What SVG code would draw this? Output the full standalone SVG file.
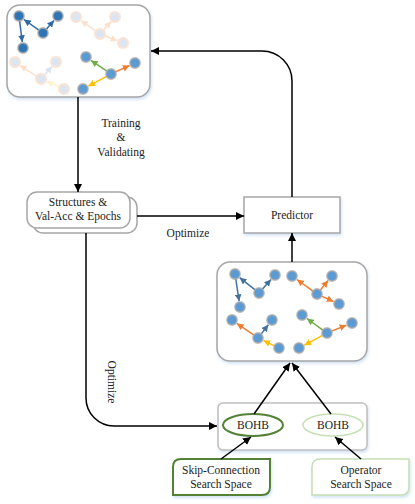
<svg xmlns="http://www.w3.org/2000/svg" width="415" height="504" viewBox="0 0 415 504">
<defs>
<filter id="sh" x="-10%" y="-10%" width="125%" height="130%"><feDropShadow dx="1" dy="2" stdDeviation="1.5" flood-color="#9dc3e6" flood-opacity="0.45"/></filter>
<marker id="ak" viewBox="0 0 10 10" refX="10" refY="5" markerWidth="8" markerHeight="8" markerUnits="userSpaceOnUse" orient="auto"><path d="M0,0 L10,5 L0,10 z" fill="#000"/></marker>
<marker id="mdb" viewBox="0 0 10 10" refX="10" refY="5" markerWidth="4.5" markerHeight="4.5" orient="auto"><path d="M0,0 L10,5 L0,10 z" fill="#2e6aa6"/></marker>
<marker id="mb" viewBox="0 0 10 10" refX="10" refY="5" markerWidth="4.5" markerHeight="4.5" orient="auto"><path d="M0,0 L10,5 L0,10 z" fill="#41719c"/></marker>
<marker id="mo" viewBox="0 0 10 10" refX="10" refY="5" markerWidth="4.5" markerHeight="4.5" orient="auto"><path d="M0,0 L10,5 L0,10 z" fill="#ed7d31"/></marker>
<marker id="mg" viewBox="0 0 10 10" refX="10" refY="5" markerWidth="4.5" markerHeight="4.5" orient="auto"><path d="M0,0 L10,5 L0,10 z" fill="#70ad47"/></marker>
<marker id="my" viewBox="0 0 10 10" refX="10" refY="5" markerWidth="4.5" markerHeight="4.5" orient="auto"><path d="M0,0 L10,5 L0,10 z" fill="#ffc000"/></marker>
<marker id="mfo" viewBox="0 0 10 10" refX="10" refY="5" markerWidth="4.5" markerHeight="4.5" orient="auto"><path d="M0,0 L10,5 L0,10 z" fill="#fbe0cc"/></marker>
<marker id="mfb" viewBox="0 0 10 10" refX="10" refY="5" markerWidth="4.5" markerHeight="4.5" orient="auto"><path d="M0,0 L10,5 L0,10 z" fill="#dae3f3"/></marker>
<marker id="mfy" viewBox="0 0 10 10" refX="10" refY="5" markerWidth="4.5" markerHeight="4.5" orient="auto"><path d="M0,0 L10,5 L0,10 z" fill="#fff2cc"/></marker>
</defs>
<style>
text{font-family:"Liberation Serif","Times New Roman",serif;font-size:11.5px;fill:#222;text-anchor:middle}
.box{fill:#fff;stroke:#a6a6a6;stroke-width:1.5}
.con{fill:none;stroke:#000;stroke-width:1.5;marker-end:url(#ak)}
.n{fill:#5b9bd5;stroke:#a6a6a6;stroke-opacity:.75;stroke-width:1.8}
.nd{fill:#2e75b6;stroke:#a6a6a6;stroke-opacity:.75;stroke-width:1.8}
.nf{fill:#dce6f2;stroke:#fbe3d3;stroke-width:2}
.e{fill:none;stroke-width:1.5}
.db{stroke:#2e6aa6;marker-end:url(#mdb)}
.b{stroke:#41719c;marker-end:url(#mb)}
.o{stroke:#ed7d31;marker-end:url(#mo)}
.g{stroke:#70ad47;marker-end:url(#mg)}
.y{stroke:#ffc000;marker-end:url(#my)}
.fo{stroke:#fbe0cc;marker-end:url(#mfo)}
.fb{stroke:#dae3f3;marker-end:url(#mfb)}
.fy{stroke:#fff2cc;marker-end:url(#mfy)}
</style>

<g id="population-top">
<rect x="7" y="5" width="143" height="92" rx="13" class="box" filter="url(#sh)"/>
<g>
<line class="e fo" x1="95.9" y1="31.1" x2="80.9" y2="20.5"/>
<line class="e fo" x1="103.3" y1="30.3" x2="111" y2="21.5"/>
<line class="e fo" x1="104.7" y1="35.8" x2="117.4" y2="40.8"/>
<circle class="nf" cx="76" cy="17" r="5"/><circle class="nf" cx="115" cy="17" r="5"/><circle class="nf" cx="100" cy="34" r="5"/><circle class="nf" cx="123" cy="43" r="5"/>
<line class="e fo" x1="36.8" y1="76.3" x2="20" y2="65.3"/>
<line class="e fb" x1="44.3" y1="75.3" x2="52" y2="66.5"/>
<line class="e fy" x1="59.4" y1="87" x2="46.5" y2="81.4"/>
<circle class="nf" cx="15" cy="62" r="5"/><circle class="nf" cx="56" cy="62" r="5"/><circle class="nf" cx="41" cy="79" r="5"/><circle class="nf" cx="64" cy="89" r="5"/>
<line class="e db" x1="38.9" y1="30.1" x2="23.9" y2="19.5"/>
<line class="e db" x1="46.3" y1="29.3" x2="54" y2="20.5"/>
<line class="e db" x1="19.6" y1="21" x2="22.3" y2="42"/>
<circle class="nd" cx="19" cy="16" r="5"/><circle class="nd" cx="58" cy="16" r="5"/><circle class="nd" cx="43" cy="33" r="5"/><circle class="nd" cx="23" cy="48" r="5"/>
<line class="e g" x1="106.9" y1="71.2" x2="91" y2="60.4"/>
<line class="e o" x1="115.5" y1="71.9" x2="129.5" y2="65.5"/>
<line class="e y" x1="106.6" y1="76.4" x2="88.3" y2="86.2"/>
<circle class="n" cx="86" cy="57" r="5"/><circle class="n" cx="135" cy="63" r="5"/><circle class="n" cx="111" cy="74" r="5"/><circle class="n" cx="83" cy="89" r="5"/>
</g>
</g>

<g id="structures">
<rect x="33" y="197" width="104" height="36" rx="10" class="box"/>
<rect x="27" y="192" width="103" height="36" rx="10" class="box"/>
<text x="78" y="206">Structures &amp;</text>
<text x="78" y="220">Val-Acc &amp; Epochs</text>
</g>

<g id="predictor">
<rect x="244" y="197" width="96" height="36" class="box" filter="url(#sh)"/>
<text x="292" y="219">Predictor</text>
</g>

<g id="population-mid">
<rect x="217" y="262" width="150" height="99" rx="13" class="box" filter="url(#sh)"/>
<line class="e b" x1="255.1" y1="289.9" x2="239.7" y2="277.7"/>
<line class="e b" x1="262.3" y1="289.3" x2="271" y2="279.5"/>
<line class="e b" x1="235.8" y1="279" x2="239.1" y2="301.1"/>
<circle class="n" cx="235" cy="274" r="5"/><circle class="n" cx="275" cy="275" r="5"/><circle class="n" cx="259" cy="293" r="5"/><circle class="n" cx="240" cy="307" r="5"/>
<line class="e o" x1="312.9" y1="291.1" x2="296.9" y2="279.5"/>
<line class="e o" x1="320.2" y1="290.2" x2="328.2" y2="280.6"/>
<line class="e o" x1="321.5" y1="296.1" x2="333.5" y2="301.5"/>
<circle class="n" cx="292" cy="276" r="5"/><circle class="n" cx="332" cy="276" r="5"/><circle class="n" cx="317" cy="294" r="5"/><circle class="n" cx="339" cy="304" r="5"/>
<line class="e o" x1="253.9" y1="335.2" x2="236.9" y2="323.4"/>
<line class="e b" x1="261.1" y1="334.1" x2="268.3" y2="324.7"/>
<line class="e y" x1="274.5" y1="345.9" x2="263.4" y2="340.6"/>
<circle class="n" cx="232" cy="320" r="5"/><circle class="n" cx="272" cy="320" r="5"/><circle class="n" cx="258" cy="338" r="5"/><circle class="n" cx="279" cy="348" r="5"/>
<line class="e g" x1="322.9" y1="330.1" x2="306.9" y2="318.5"/>
<line class="e o" x1="331.6" y1="331.1" x2="346.4" y2="325.2"/>
<line class="e y" x1="322.6" y1="335.4" x2="304.3" y2="345.2"/>
<circle class="n" cx="302" cy="315" r="5"/><circle class="n" cx="352" cy="323" r="5"/><circle class="n" cx="327" cy="333" r="5"/><circle class="n" cx="299" cy="348" r="5"/>
</g>

<g id="bohb-container">
<rect x="218" y="403" width="149" height="47" rx="5" fill="#fff" stroke="#bfbfbf" stroke-width="1.5" filter="url(#sh)"/>
</g>
<g id="bohb-1">
<ellipse cx="253" cy="425" rx="30" ry="11" fill="#fff" stroke="#538135" stroke-width="2"/>
<text x="253" y="429">BOHB</text>
</g>
<g id="bohb-2">
<ellipse cx="333" cy="425" rx="30" ry="11" fill="#fff" stroke="#c5e0b4" stroke-width="1.5"/>
<text x="333" y="429">BOHB</text>
</g>

<g id="skip-space">
<path d="M173,495 V467 Q173,459 181,459 H270 V487 Q270,495 262,495 Z" fill="#fff" stroke="#538135" stroke-width="2" filter="url(#sh)"/>
<text x="221" y="474">Skip-Connection</text>
<text x="221" y="488">Search Space</text>
</g>
<g id="operator-space">
<path d="M312,495 V467 Q312,459 320,459 H409 V487 Q409,495 401,495 Z" fill="#fff" stroke="#c5e0b4" stroke-width="1.5" filter="url(#sh)"/>
<text x="361" y="474">Operator</text>
<text x="361" y="488">Search Space</text>
</g>

<g id="connectors">
<line class="con" x1="78" y1="97" x2="78" y2="192"/>
<line class="con" x1="137" y1="216" x2="244" y2="216"/>
<line class="con" x1="292" y1="262" x2="292" y2="233"/>
<path class="con" d="M292,197 V81 A30,30 0 0 0 262,51 H151"/>
<path class="con" d="M86,233 V398 A28,28 0 0 0 114,426 H217"/>
<line class="con" x1="254" y1="414" x2="290" y2="363"/>
<line class="con" x1="331" y1="414" x2="292" y2="363"/>
<line class="con" x1="221" y1="459" x2="251" y2="437"/>
<line class="con" x1="361" y1="459" x2="335" y2="437"/>
<text x="121" y="127">Training</text>
<text x="121" y="141">&amp;</text>
<text x="121" y="156">Validating</text>
<text x="188" y="237">Optimize</text>
<text x="0" y="0" transform="translate(108,382) rotate(90)">Optimize</text>
</g>
</svg>
